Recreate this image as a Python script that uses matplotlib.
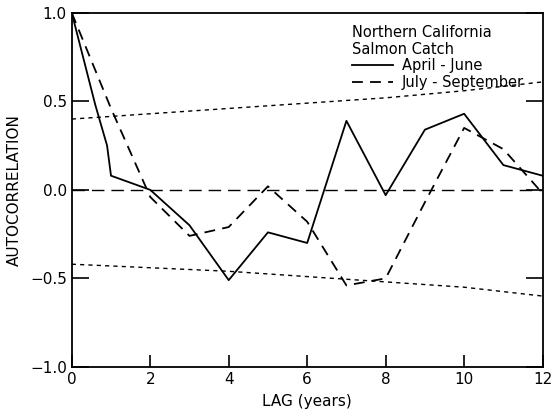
import numpy as np
import matplotlib.pyplot as plt

# autocorrelation
lag_apr = [0, 0.6, 0.9, 1, 2, 3, 4, 5, 6, 7, 8, 9, 10, 11, 12]
acf_apr = [1.0, 0.48, 0.25, 0.08, 0.0, -0.20, -0.51, -0.24, -0.30, 0.39, -0.03, 0.34, 0.43, 0.14, 0.08]

lag_jul = [0, 1, 2, 3, 4, 5, 6, 7, 8, 9, 10, 11, 12]
acf_jul = [1.0, 0.46, -0.04, -0.26, -0.21, 0.02, -0.18, -0.54, -0.50, -0.07, 0.35, 0.23, -0.02]

# confidence limits
lag_ci = [0, 2, 4, 6, 8, 10, 12]
ci_upper = [0.40, 0.43, 0.46, 0.49, 0.52, 0.56, 0.61]
ci_lower = [-0.42, -0.44, -0.46, -0.49, -0.52, -0.55, -0.60]

fig = plt.figure(figsize=(5.52, 4.15), dpi=100)
ax = fig.add_axes([0.130, 0.116, 0.853, 0.853])

ax.axhline(0, color='black', lw=1.0, dashes=(9, 5))
ax.plot(lag_ci, ci_upper, color='black', lw=1.0, dashes=(3, 3))
ax.plot(lag_ci, ci_lower, color='black', lw=1.0, dashes=(3, 3))
l1, = ax.plot(lag_apr, acf_apr, color='black', lw=1.3, label='April - June')
l2, = ax.plot(lag_jul, acf_jul, color='black', lw=1.3, dashes=(6, 4), label='July - September')

ax.set_xlim(0, 12)
ax.set_ylim(-1, 1)
ax.set_xticks(range(0, 13, 2))
ax.set_yticks([-1.0, -0.5, 0.0, 0.5, 1.0])
ax.set_yticklabels(['\u22121.0', '\u22120.5', '0.0', '0.5', '1.0'])
ax.tick_params(axis='both', direction='in', labelsize=11, length=9, width=1.2)
ax.tick_params(axis='y', right=True, length=12)
for s in ax.spines.values():
    s.set_linewidth(1.3)

ax.set_xlabel('LAG (years)', fontsize=11, labelpad=5)
ax.set_ylabel('AUTOCORRELATION', fontsize=11, labelpad=6)

leg = ax.legend(handles=[l1, l2], title='Northern California\nSalmon Catch',
                loc='upper right', bbox_to_anchor=(0.985, 1.0), frameon=False,
                fontsize=10.5, title_fontsize=10.5, handlelength=2.8,
                handletextpad=0.6, borderaxespad=0.4, labelspacing=0.1)
leg._legend_box.align = 'left'

fig.savefig('out.png', dpi=100)
